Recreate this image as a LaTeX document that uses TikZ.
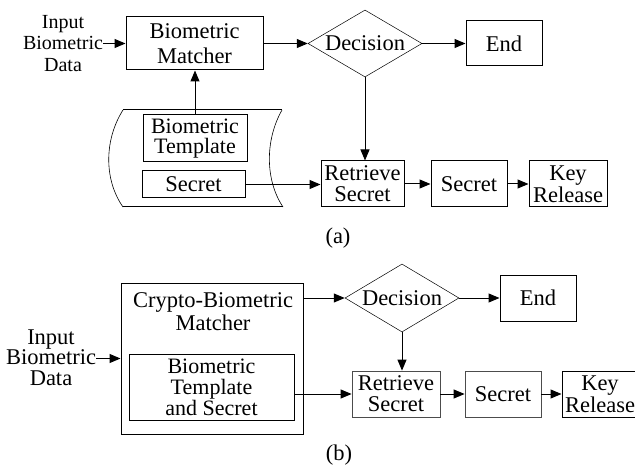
\documentclass[tikz,border=0pt]{standalone}
\usepackage{fontspec}
\setmainfont{Liberation Serif}
\usetikzlibrary{arrows.meta,shapes.geometric}
\begin{document}
\begin{tikzpicture}[x=1pt,y=-1pt,
  txt/.style={inner sep=0pt, align=center, font=\fontsize{22.5}{23}\selectfont},
  box/.style={txt, draw, line width=1pt},
  lightbox/.style={box, draw=black!70, line width=0.8pt},
  dec/.style={diamond, draw, line width=0.5pt, inner sep=0pt, aspect=1.7,
    minimum width=114pt, minimum height=67pt, font=\fontsize{22.5}{23}\selectfont},
  arr/.style={-{Triangle[length=11pt,width=9pt]}, line width=1pt}]
\useasboundingbox (0,0) rectangle (635,468);

% ---------- (a) ----------
\node[txt, font=\fontsize{20}{21.5}\selectfont] (inA) at (63,43.5) {Input\\Biometric\\Data};
\node[box, minimum width=137pt, minimum height=53pt, font=\fontsize{22.5}{25}\selectfont] (bm) at (194.5,43.5) {Biometric\\Matcher};
\node[dec] (decA) at (365,43.5) {Decision};
\node[box, minimum width=76pt, minimum height=45pt] (endA) at (504,43.5) {End};

% storage holding template and secret
\draw[line width=1pt] (123,110) -- (282,110);
\draw[line width=1pt] (123,207) -- (283,207);
\draw[line width=0.6pt] (123,110) .. controls (104,140) and (104,180) .. (123,207);
\draw[line width=0.6pt] (282,110) .. controls (265,140) and (265,180) .. (283,207);
\node[box, minimum width=104pt, minimum height=47pt, font=\fontsize{22}{20.5}\selectfont] (tmpA) at (195,138.5) {Biometric\\Template};
\node[box, minimum width=103pt, minimum height=27pt] (sbA) at (193.5,184.5) {Secret};

\node[box, minimum width=83pt, minimum height=46pt, font=\fontsize{22.5}{21}\selectfont] (retA) at (362.5,184) {Retrieve\\Secret};
\node[box, minimum width=76pt, minimum height=46pt] (secA) at (469,184) {Secret};
\node[box, minimum width=78pt, minimum height=46pt, font=\fontsize{22.5}{22}\selectfont] (keyA) at (568,184) {Key\\Release};

\draw[arr] (inA.east |- bm.west) -- (bm.west);
\draw[arr] (bm.east) -- (decA.west);
\draw[arr] (decA.east) -- (endA.west);
\draw[arr] (decA.south) -- (decA.south |- retA.north);
\draw[arr] (tmpA.north) -- (tmpA.north |- bm.south);
\draw[arr] (sbA.east) -- (sbA.east -| retA.west);
\draw[arr] (retA.east) -- (secA.west);
\draw[arr] (secA.east) -- (keyA.west);

\node[txt] (capA) at (338,238) {(a)};

% ---------- (b) ----------
\node[txt, font=\fontsize{22.5}{20.5}\selectfont] (inB) at (51,357.5) {Input\\Biometric\\Data};
\node[box, minimum width=182pt, minimum height=151pt] (cbm) at (212,358.5) {};
\node[txt] (cbmT) at (213,311.5) {Crypto-Biometric\\Matcher};
\node[box, minimum width=165pt, minimum height=66pt, font=\fontsize{22}{21}\selectfont] (inner) at (211.5,387) {Biometric\\Template\\and Secret};

\node[dec, minimum height=68pt] (decB) at (402,298) {Decision};
\node[box, minimum width=76pt, minimum height=46pt] (endB) at (538,298) {End};
\node[lightbox, minimum width=88pt, minimum height=46pt, font=\fontsize{22.5}{21}\selectfont] (retB) at (396,394) {Retrieve\\Secret};
\node[lightbox, minimum width=76pt, minimum height=46pt] (secB) at (503,394) {Secret};
\node[box, minimum width=76pt, minimum height=46pt, font=\fontsize{22.5}{22}\selectfont] (keyB) at (600,394) {Key\\Release};

\draw[arr] (inB.east |- cbm.west) -- (cbm.west);
\draw[arr] (cbm.east |- decB.west) -- (decB.west);
\draw[arr] (decB.east) -- (endB.west);
\draw[arr] (decB.south) -- (decB.south |- retB.north);
\draw[arr] (inner.east |- retB.west) -- (retB.west);
\draw[arr] (retB.east) -- (secB.west);
\draw[arr] (secB.east) -- (keyB.west);

\node[txt] (capB) at (339,455) {(b)};
\end{tikzpicture}
\end{document}
